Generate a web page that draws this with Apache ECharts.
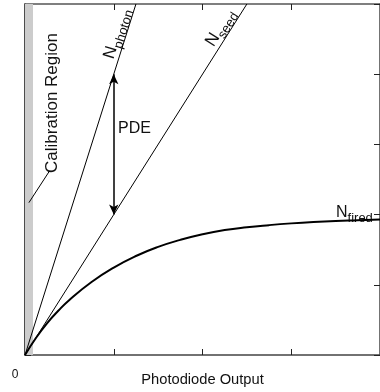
<!DOCTYPE html>
<html>
<head>
<meta charset="utf-8">
<style>html,body{margin:0;padding:0;background:#fff}#c{width:380px;height:392px}</style>
<script src="https://cdn.jsdelivr.net/npm/echarts@6/dist/echarts.min.js"></script>
</head>
<body>
<div id="c"></div>
<script>
// ---- data ----
const photonX = [0, 1, 1.25];
const photonY = [0, 4, 5];
const seedX = [0, 1, 2.5];
const seedY = [0, 2, 5];
const firedX = [0, 0.125, 0.25, 0.375, 0.5, 0.75, 1.0, 1.25, 1.5, 1.75, 2.0, 2.25, 2.5, 2.75, 3.0, 3.25, 3.5, 3.75, 4.0];
const firedY = [0, 0.245, 0.455, 0.63, 0.785, 1.04, 1.245, 1.41, 1.54, 1.64, 1.72, 1.78, 1.82, 1.85, 1.875, 1.895, 1.91, 1.92, 1.93];
const pdeArrowX = 1;
const pdeArrowFrom = 2;
const pdeArrowTo = 4;
const calibRegion = [0, 0.09];
const calibLeaderX = [0.044, 0.278];
const calibLeaderY = [2.17, 2.625];
const xTickMin = 0, xTickMax = 4, xTickStep = 1;
const yTickMin = 0, yTickMax = 5, yTickStep = 1;

const zip = (xs, ys) => xs.map((x, i) => [x, ys[i]]);
const FONT = '"Liberation Sans", Arial, sans-serif';

const chart = echarts.init(document.getElementById('c'), null, {renderer: 'canvas'});

const axisCommon = (pos, color) => ({
  position: pos,
  axisLine: {show: true, onZero: false, lineStyle: {color: color, width: 1.5}},
  axisTick: {show: true, inside: true, length: 6, lineStyle: {color: '#222', width: 1}},
  axisLabel: {show: false},
  splitLine: {show: false}
});

const option = {
  animation: false,
  backgroundColor: '#fff',
  grid: {left: 25, right: -5, top: 4, bottom: 28, containLabel: false},
  xAxis: [
    Object.assign({type: 'value', min: xTickMin, max: xTickMax, interval: xTickStep,
      name: 'Photodiode Output', nameLocation: 'middle', nameGap: 17,
      nameTextStyle: {fontFamily: FONT, fontSize: 14.7, color: '#111'}}, axisCommon('bottom', '#444')),
    Object.assign({type: 'value', min: xTickMin, max: xTickMax, interval: xTickStep}, axisCommon('top', '#555'))
  ],
  yAxis: [
    Object.assign({type: 'value', min: yTickMin, max: yTickMax, interval: yTickStep}, axisCommon('left', '#111')),
    Object.assign({type: 'value', min: yTickMin, max: yTickMax, interval: yTickStep}, axisCommon('right', '#444'))
  ],
  series: [
    {
      type: 'line', name: 'calib', data: zip(calibLeaderX, calibLeaderY),
      showSymbol: false, lineStyle: {color: '#000', width: 1}, z: 3,
      markArea: {silent: true, itemStyle: {color: '#cccccc'},
        data: [[{xAxis: calibRegion[0], yAxis: yTickMin}, {xAxis: calibRegion[1], yAxis: yTickMax}]]}
    },
    {type: 'line', name: 'photon', data: zip(photonX, photonY), showSymbol: false,
      lineStyle: {color: '#000', width: 1}, z: 4},
    {type: 'line', name: 'seed', data: zip(seedX, seedY), showSymbol: false,
      lineStyle: {color: '#000', width: 1}, z: 4,
      markLine: {silent: true, symbol: ['arrow', 'arrow'], symbolSize: [7, 10],
        lineStyle: {color: '#000', width: 1.5, type: 'solid'}, label: {show: false},
        data: [[{coord: [pdeArrowX, pdeArrowFrom]}, {coord: [pdeArrowX, pdeArrowTo]}]]}},
    {type: 'line', name: 'fired', data: zip(firedX, firedY), showSymbol: false, smooth: true,
      lineStyle: {color: '#000', width: 2}, z: 5}
  ],
  graphic: [
    {type: 'text', x: 15, y: 375, style: {text: '0', font: '12px ' + FONT, fill: '#111', align: 'center', verticalAlign: 'middle'}},
    {type: 'text', x: 52, y: 103, rotation: Math.PI / 2,
      style: {text: 'Calibration Region', font: '17px ' + FONT, fill: '#111', align: 'center', verticalAlign: 'middle'}},
    {type: 'text', x: 118, y: 129,
      style: {text: 'PDE', font: '16px ' + FONT, fill: '#111', align: 'left', verticalAlign: 'middle'}},
    {type: 'text', x: 115, y: 33, rotation: 72.8 * Math.PI / 180,
      style: {text: '{n|N}{s|photon}', align: 'center', verticalAlign: 'middle', fill: '#111',
        rich: {n: {fontFamily: FONT, fontSize: 17, verticalAlign: 'bottom', lineHeight: 20},
               s: {fontFamily: FONT, fontSize: 13, verticalAlign: 'bottom', lineHeight: 20, padding: [0, 0, -4, 0]}}}},
    {type: 'text', x: 219, y: 27, rotation: 58 * Math.PI / 180,
      style: {text: '{n|N}{s|seed}', align: 'center', verticalAlign: 'middle', fill: '#111',
        rich: {n: {fontFamily: FONT, fontSize: 17, verticalAlign: 'bottom', lineHeight: 20},
               s: {fontFamily: FONT, fontSize: 13, verticalAlign: 'bottom', lineHeight: 20, padding: [0, 0, -4, 0]}}}},
    {type: 'text', x: 336, y: 211,
      style: {text: '{n|N}{s|fired}', align: 'left', verticalAlign: 'middle', fill: '#111',
        rich: {n: {fontFamily: FONT, fontSize: 16, verticalAlign: 'bottom', lineHeight: 20},
               s: {fontFamily: FONT, fontSize: 13, verticalAlign: 'bottom', lineHeight: 20, padding: [0, 0, -4, 0]}}}}
  ]
};
chart.setOption(option);
</script>
</body>
</html>
